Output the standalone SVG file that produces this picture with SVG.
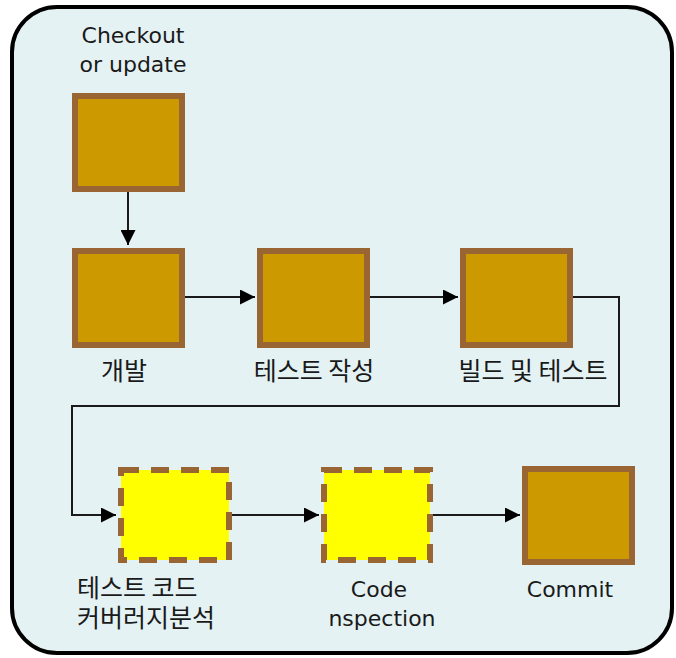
<svg xmlns="http://www.w3.org/2000/svg" width="676" height="658" viewBox="0 0 676 658">
  <style>
    .frame { fill: #e4f2f4; stroke: #000; stroke-width: 4; }
    .solid { fill: #cc9900; stroke: #996633; stroke-width: 6; }
    .dashed { fill: #ffff00; stroke: #996633; stroke-width: 6; stroke-dasharray: 18 12; }
    .wire { fill: none; stroke: #1a1a1a; stroke-width: 2; }
    .lat { font-family: "DejaVu Sans", "Liberation Sans", sans-serif; font-size: 22px; fill: #1a1a1a; }
    .kor { font-family: "Noto Sans CJK KR", "DejaVu Sans", sans-serif; font-size: 25px; fill: #1a1a1a; }
  </style>
  <defs>
    <marker id="arrow" viewBox="0 0 15 15" refX="15" refY="7.5" markerWidth="15" markerHeight="15" markerUnits="userSpaceOnUse" orient="auto">
      <path d="M0,0 L15,7.5 L0,15 Z" fill="#000"/>
    </marker>
  </defs>

  <!-- rounded container -->
  <rect class="frame" x="12" y="7" width="660" height="646" rx="45" ry="45"/>

  <g id="connectors">
    <path class="wire" d="M128,192 V245" marker-end="url(#arrow)"/>
    <path class="wire" d="M185,297 H255" marker-end="url(#arrow)"/>
    <path class="wire" d="M370,297 H458" marker-end="url(#arrow)"/>
    <path class="wire" d="M573,297 H619 V406 H72 V515 H116" marker-end="url(#arrow)"/>
    <path class="wire" d="M232,515 H319" marker-end="url(#arrow)"/>
    <path class="wire" d="M433,515 H520" marker-end="url(#arrow)"/>
  </g>

  <g id="checkout">
    <rect class="solid" x="75" y="96" width="107" height="93"/>
    <text class="lat" x="133" y="43" text-anchor="middle">Checkout</text>
    <text class="lat" x="133" y="72" text-anchor="middle">or update</text>
  </g>

  <g id="develop">
    <rect class="solid" x="75" y="251" width="107" height="94"/>
    <text class="kor" x="124" y="380" text-anchor="middle">개발</text>
  </g>

  <g id="write-tests">
    <rect class="solid" x="260" y="251" width="107" height="94"/>
    <text class="kor" x="314" y="380" text-anchor="middle">테스트 작성</text>
  </g>

  <g id="build-test">
    <rect class="solid" x="463" y="251" width="107" height="94"/>
    <text class="kor" x="533" y="380" text-anchor="middle">빌드 및 테스트</text>
  </g>

  <g id="coverage">
    <rect class="dashed" x="121" y="470" width="108" height="90"/>
    <text class="kor" x="77" y="597">테스트 코드</text>
    <text class="kor" x="77" y="627">커버러지분석</text>
  </g>

  <g id="inspection">
    <rect class="dashed" x="324" y="470" width="106" height="90"/>
    <text class="lat" x="379" y="597" text-anchor="middle">Code</text>
    <text class="lat" x="382" y="626" text-anchor="middle">nspection</text>
  </g>

  <g id="commit">
    <rect class="solid" x="525" y="469" width="107" height="93"/>
    <text class="lat" x="570" y="597" text-anchor="middle">Commit</text>
  </g>
</svg>
